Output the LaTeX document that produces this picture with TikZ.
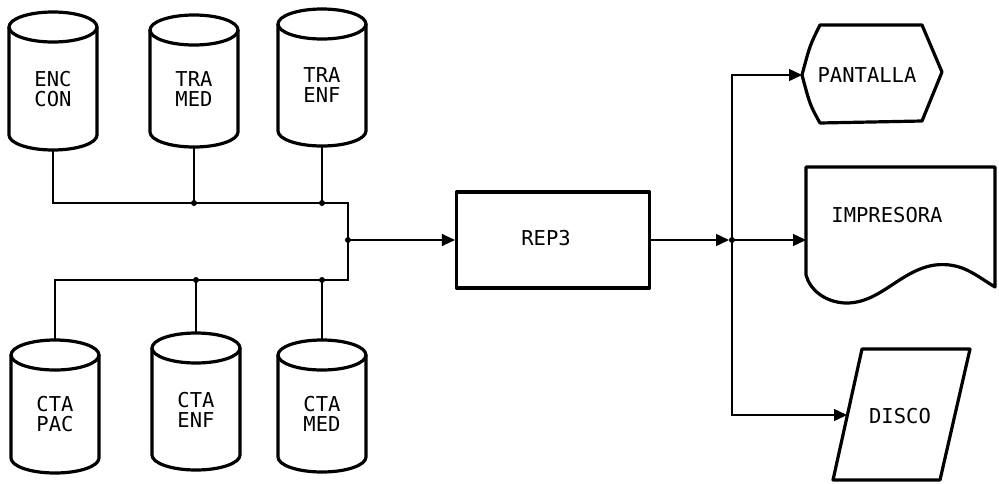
\documentclass[tikz,border=0pt]{standalone}
\usepackage{fontspec}
\setmonofont{DejaVu Sans Mono}
\usetikzlibrary{arrows.meta}
\tikzset{
 shp/.style={line width=3.2pt, line join=round},
 con/.style={line width=1.4pt},
 arr/.style={con, -{Triangle[length=13pt,width=12pt]}},
 lbl/.style={font=\ttfamily\fontsize{20.5}{20}\selectfont, align=center, inner sep=0pt},
 jdot/.style={circle, fill, inner sep=0pt, minimum size=6pt},
}
\newcommand\mycyl[5]{%
  \draw[shp] (#2-44,#3+15) -- (#2-44,#4-15) arc[start angle=180,end angle=0,x radius=44,y radius=15] -- (#2+44,#3+15);
  \draw[shp] (#2,#3+15) ellipse[x radius=44,y radius=15];
  \node[lbl] (#1) at (#2,{(#3+#4)/2+8}) {#5};
  \coordinate (#1-t) at (#2,#3);
  \coordinate (#1-b) at (#2,#4);
}
\begin{document}
\begin{tikzpicture}[x=1pt,y=-1pt]
\useasboundingbox (0,0) rectangle (999,483);
% cylinders
\mycyl{enc}{53}{12}{150}{ENC\\CON}
\mycyl{tramed}{194}{15}{147}{TRA\\MED}
\mycyl{traenf}{322}{9}{146}{TRA\\ENF}
\mycyl{pac}{55}{340}{473}{CTA\\PAC}
\mycyl{ctaenf}{196}{333}{470}{CTA\\ENF}
\mycyl{ctamed}{322}{340}{472}{CTA\\MED}
% bus
\coordinate (tb) at (348,203);
\coordinate (m) at (348,240);
\coordinate (bb) at (348,280);
\draw[con] (enc-b) |- (tb) -- (bb) -| (pac-t);
\draw[con] (tramed-b) -- (tramed-b |- tb);
\draw[con] (traenf-b) -- (traenf-b |- tb);
\draw[con] (ctaenf-t) -- (ctaenf-t |- bb);
\draw[con] (ctamed-t) -- (ctamed-t |- bb);
\node[jdot] at (tramed-b |- tb) {};
\node[jdot] at (traenf-b |- tb) {};
\node[jdot] at (ctaenf-t |- bb) {};
\node[jdot] at (ctamed-t |- bb) {};
\node[jdot] at (m) {};
% process
\node[shp, draw, rectangle, minimum width=193pt, minimum height=96pt] (rep) at (553,240) {};
\node[lbl] (replbl) at (546,238) {REP3};
\draw[arr] (m) -- (rep.west);
% junction
\coordinate (j) at (732,240);
\draw[arr, shorten >=3pt] (rep.east) -- (j);
\node[jdot] at (j) {};
% PANTALLA
\draw[shp] (820,25) -- (922,25) -- (942,72) -- (922,121) -- (820,123)
  .. controls (810,105) .. (802,75) .. controls (810,45) .. cycle;
\node[lbl] (pant) at (867,75) {PANTALLA};
\coordinate (pant-w) at (802,75);
% IMPRESORA
\draw[shp] (806,167) -- (995,167) -- (995,287)
  .. controls (975,275) and (962,262) .. (935,265)
  .. controls (900,270) and (880,304) .. (845,303)
  .. controls (825,302) and (810,290) .. (806,275) -- cycle;
\node[lbl] (imp) at (887,215) {IMPRESORA};
\coordinate (imp-w) at (806,240);
% DISCO
\draw[shp] (862,349) -- (970,349) -- (940,480) -- (833,480) -- cycle;
\node[lbl] (disco) at (900,416) {DISCO};
\coordinate (disco-w) at (847,415);
% outputs
\draw[arr] (j) |- (pant-w);
\draw[arr] (j) -- (imp-w);
\draw[arr] (j) |- (disco-w);
\end{tikzpicture}
\end{document}
